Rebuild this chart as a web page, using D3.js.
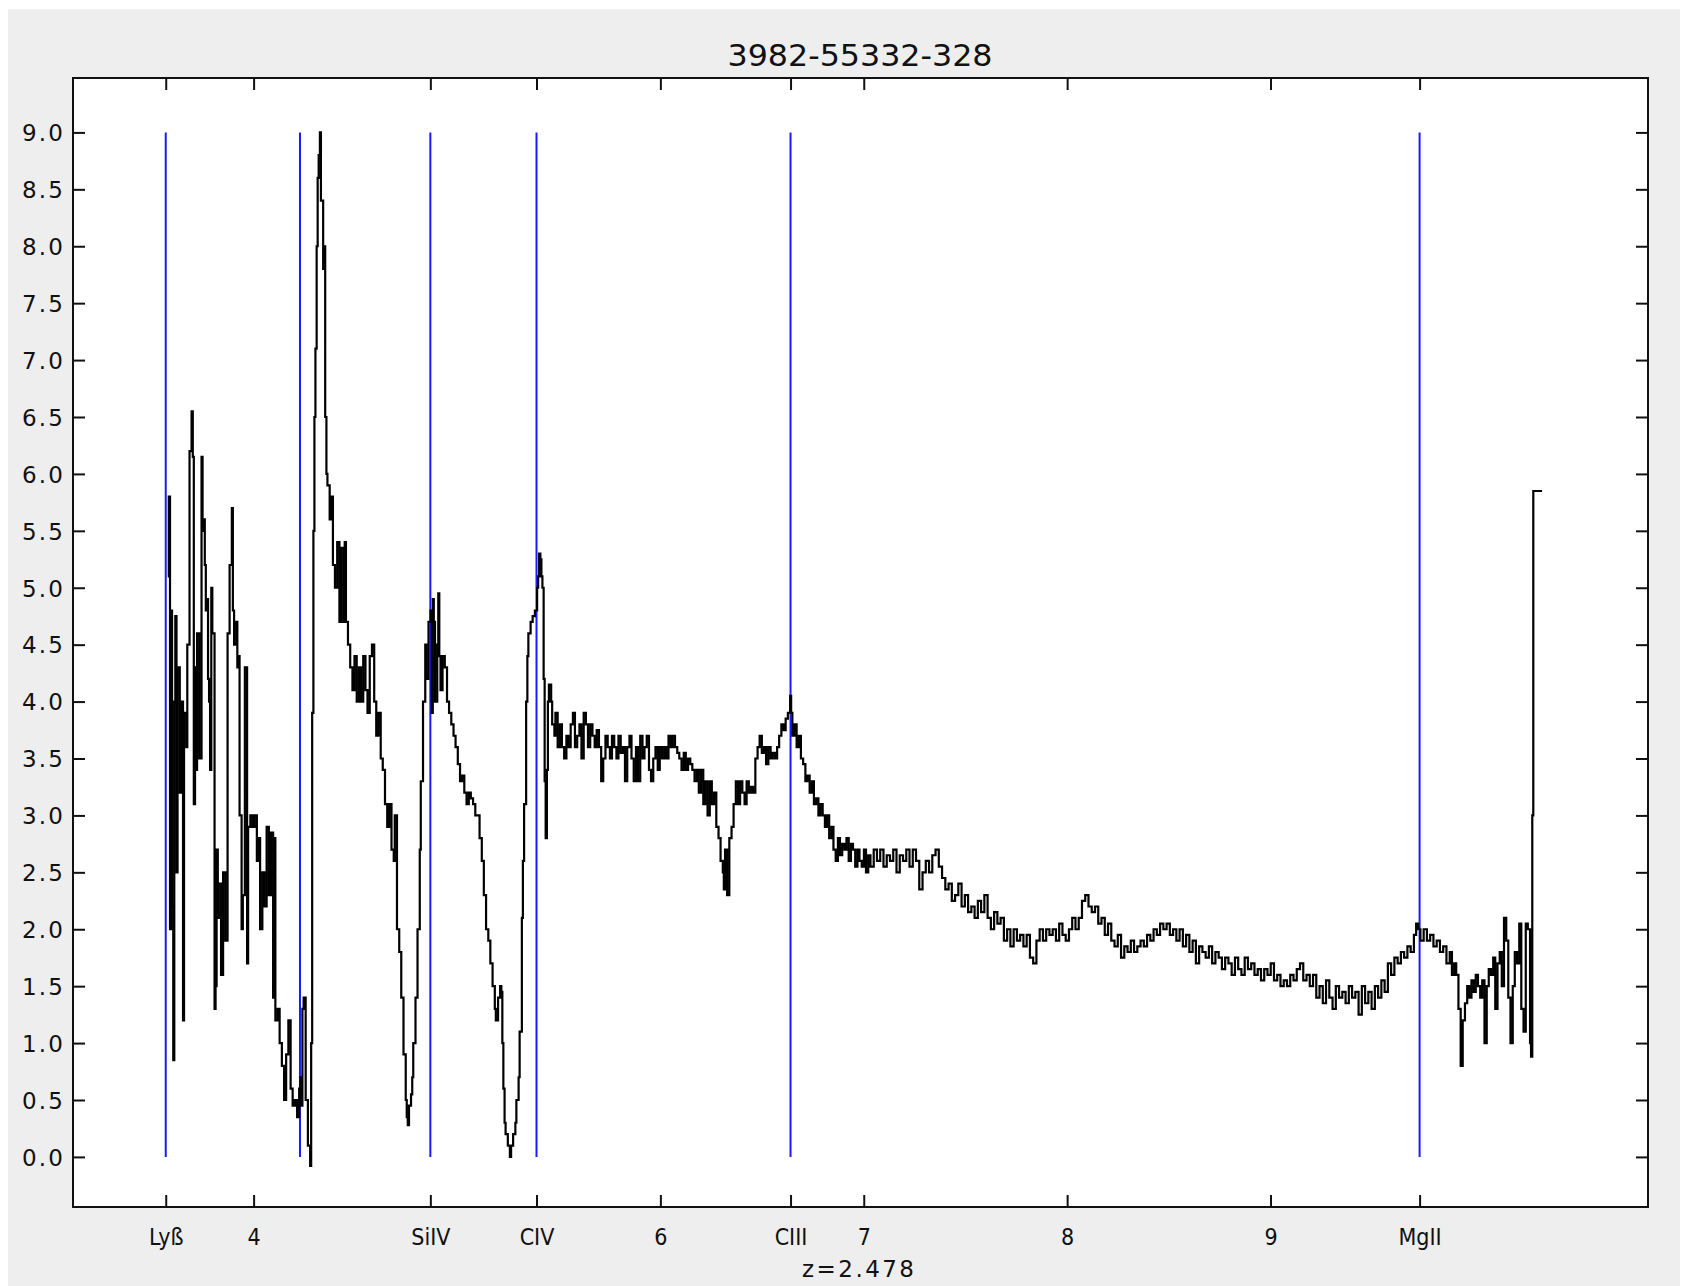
<!DOCTYPE html>
<html>
<head>
<meta charset="utf-8">
<script src="https://cdn.jsdelivr.net/npm/d3@7"></script>
<style>
  html, body { margin: 0; padding: 0; background: #ffffff; }
  svg { display: block; }
</style>
</head>
<body>
<svg id="chart" width="1707" height="1286"></svg>
<script>
// ---------------- DATA ----------------
const title = "3982-55332-328";
const redshiftLabel = "z=2.478";

// observed wavelength (Å)
const wavelength = [
3578,3583,3589,3594,3599,3605,3610,3615,3621,3626,3637,3647,3653,3658,3669,3674,3685,3695,3701,3706,
3712,3717,3722,3733,3744,3749,3754,3760,3765,3770,3776,3781,3786,3792,3797,3808,3813,3818,3824,3829,
3840,3850,3861,3872,3882,3893,3898,3904,3915,3920,3925,3931,3941,3947,3957,3968,3973,3984,3995,4005,
4016,4027,4032,4043,4053,4064,4075,4085,4096,4101,4107,4118,4128,4139,4150,4160,4171,4182,4192,4203,
4214,4224,4230,4235,4240,4246,4256,4267,4278,4283,4288,4294,4299,4304,4310,4315,4320,4326,4331,4342,
4347,4352,4358,4363,4374,4384,4390,4400,4411,4422,4432,4443,4448,4454,4464,4475,4486,4496,4507,4518,
4528,4539,4550,4560,4571,4582,4593,4603,4614,4625,4635,4646,4657,4667,4678,4689,4694,4705,4716,4726,
4737,4748,4753,4758,4764,4774,4780,4785,4796,4806,4817,4822,4833,4844,4849,4860,4870,4876,4881,4886,
4892,4903,4908,4913,4919,4929,4940,4951,4961,4972,4983,4993,5004,5015,5025,5036,5047,5058,5068,5079,
5090,5100,5111,5122,5132,5143,5154,5164,5175,5186,5191,5202,5212,5218,5223,5228,5234,5239,5250,5260,
5266,5276,5287,5292,5303,5308,5319,5324,5330,5340,5346,5351,5362,5372,5383,5394,5399,5404,5410,5415,
5420,5426,5431,5436,5442,5447,5452,5463,5468,5479,5484,5495,5506,5516,5527,5538,5548,5559,5570,5580,
5591,5602,5612,5623,5634,5644,5655,5666,5677,5687,5698,5709,5719,5730,5741,5752,5762,5773,5784,5794,
5805,5816,5826,5837,5848,5858,5869,5880,5890,5901,5912,5922,5933,5944,5954,5965,5976,5987,5997,6008,
6019,6029,6040,6051,6061,6072,6083,6093,6104,6115,6125,6136,6147,6157,6168,6179,6189,6200,6211,6221,
6232,6243,6253,6264,6275,6286,6296,6307,6312,6318,6328,6339,6350,6360,6371,6382,6392,6403,6414,6424,
6435,6446,6456,6467,6478,6488,6499,6510,6520,6531,6542,6552,6563,6574,6584,6595,6606,6616,6627,6638,
6643,6649,6659,6670,6681,6691,6702,6713,6723,6734,6745,6755,6766,6777,6787,6798,6809,6819,6830,6841,
6851,6862,6873,6883,6894,6905,6915,6926,6937,6947,6958,6969,6979,6990,7001,7011,7022,7033,7049,7065,
7081,7097,7113,7129,7145,7161,7177,7193,7209,7225,7241,7257,7273,7289,7305,7321,7337,7353,7369,7385,
7401,7417,7433,7449,7465,7481,7497,7513,7529,7545,7561,7577,7593,7609,7625,7641,7657,7673,7689,7705,
7721,7737,7753,7769,7785,7801,7817,7833,7849,7865,7881,7897,7913,7929,7945,7961,7977,7993,8009,8025,
8041,8057,8073,8089,8105,8121,8137,8153,8169,8185,8201,8217,8233,8249,8265,8281,8297,8313,8329,8345,
8361,8377,8393,8409,8425,8441,8457,8473,8489,8505,8521,8537,8553,8569,8585,8601,8617,8633,8649,8665,
8681,8697,8713,8729,8745,8761,8777,8793,8809,8825,8841,8857,8873,8889,8905,8921,8937,8953,8969,8985,
9001,9017,9033,9049,9065,9081,9097,9113,9129,9145,9161,9177,9193,9209,9225,9241,9257,9273,9289,9305,
9321,9337,9353,9369,9385,9401,9417,9433,9449,9465,9481,9497,9513,9529,9545,9561,9577,9593,9609,9625,
9641,9657,9673,9689,9705,9716,9726,9737,9753,9769,9785,9801,9817,9833,9849,9865,9881,9892,9903,9913,
9924,9935,9945,9956,9967,9977,9988,9999,10009,10020,10031,10041,10052,10063,10073,10084,10095,10105,10116,10127,
10137,10148,10159,10169,10180,10191,10201,10212,10223,10233,10244,10255,10265,10276,10281,10287,10292,10335
];

// flux
const flux = [
5.1,5.8,2.0,4.8,2.2,0.85,4.0,4.75,2.5,4.3,3.2,4.0,1.2,3.9,3.6,4.5,6.2,6.55,6.15,3.1,
4.3,3.4,4.6,3.5,6.15,5.5,5.6,5.2,4.8,4.9,4.2,4.0,3.4,5.0,4.6,1.3,1.5,2.7,2.1,2.4,
1.6,2.5,1.9,4.6,5.2,5.7,4.8,4.5,4.7,4.3,4.4,3.0,2.0,2.3,4.3,1.7,2.9,3.0,2.9,3.0,
2.6,2.8,2.0,2.5,2.2,2.9,2.3,2.85,1.4,2.8,1.2,1.3,1.0,0.8,0.5,0.9,1.2,0.6,0.45,0.5,
0.35,0.6,0.7,0.45,1.3,1.4,0.5,0.1,-0.08,1.0,3.9,5.5,6.5,7.1,8.0,8.6,8.8,9.0,8.4,7.8,
8.0,6.5,6.0,5.9,5.6,5.8,5.2,5.0,5.4,4.7,5.35,4.7,5.4,4.7,4.5,4.3,4.1,4.4,4.0,4.3,
4.0,4.4,4.1,3.9,4.4,4.5,4.0,3.7,3.9,3.5,3.4,3.1,2.9,3.1,2.7,2.6,3.0,2.0,1.8,1.4,
0.9,0.5,0.35,0.28,0.45,0.55,0.7,1.0,1.4,2.0,2.7,3.3,4.0,4.5,4.2,4.7,4.8,3.9,4.9,4.7,
4.0,4.5,4.95,4.4,4.1,4.4,4.3,4.0,3.9,3.8,3.7,3.6,3.45,3.3,3.35,3.2,3.1,3.2,3.15,3.1,
3.0,3.0,2.8,2.6,2.3,2.0,1.9,1.7,1.5,1.3,1.2,1.4,1.5,1.45,1.0,0.6,0.3,0.2,0.1,0.0,
0.1,0.2,0.3,0.5,0.7,1.1,2.1,2.6,3.1,4.0,4.4,4.6,4.7,4.75,4.8,5.0,5.1,5.3,5.25,5.1,
5.0,4.2,3.3,2.8,3.4,4.0,4.15,4.0,3.8,3.7,3.9,3.6,3.8,3.6,3.5,3.7,3.6,3.8,3.9,3.6,
3.7,3.8,3.5,3.9,3.8,3.6,3.8,3.7,3.6,3.75,3.6,3.3,3.5,3.7,3.6,3.5,3.7,3.6,3.5,3.7,
3.55,3.6,3.3,3.6,3.7,3.5,3.3,3.6,3.3,3.7,3.5,3.6,3.7,3.4,3.3,3.5,3.6,3.4,3.6,3.5,
3.6,3.5,3.7,3.6,3.7,3.6,3.55,3.5,3.4,3.55,3.4,3.5,3.45,3.4,3.3,3.4,3.2,3.4,3.1,3.3,
3.0,3.3,3.1,3.2,2.9,2.8,2.6,2.5,2.35,2.7,2.3,2.8,2.9,3.1,3.3,3.1,3.3,3.2,3.1,3.3,
3.2,3.25,3.2,3.5,3.6,3.7,3.55,3.6,3.45,3.6,3.5,3.55,3.5,3.6,3.7,3.8,3.75,3.85,3.9,4.05,
3.9,3.7,3.8,3.6,3.7,3.5,3.45,3.3,3.35,3.2,3.3,3.1,3.15,3.0,3.1,3.0,2.9,3.0,2.8,2.9,
2.7,2.6,2.8,2.65,2.75,2.7,2.8,2.6,2.75,2.7,2.55,2.7,2.6,2.55,2.7,2.5,2.65,2.55,2.7,2.6,
2.7,2.55,2.65,2.6,2.7,2.5,2.65,2.6,2.7,2.55,2.7,2.6,2.35,2.5,2.6,2.5,2.65,2.7,2.55,2.45,
2.35,2.4,2.25,2.3,2.4,2.2,2.3,2.15,2.2,2.1,2.25,2.15,2.3,2.1,2.0,2.15,2.05,2.1,1.9,2.0,
1.85,2.0,1.9,1.95,1.85,1.95,1.75,1.7,1.9,2.0,1.9,2.0,1.95,2.0,1.9,2.05,1.95,1.9,2.0,2.1,
2.0,2.1,2.25,2.3,2.2,2.15,2.2,2.05,2.1,1.95,2.05,1.9,1.85,1.95,1.75,1.85,1.8,1.9,1.8,1.85,
1.9,1.85,1.95,1.9,2.0,1.95,2.05,2.0,2.05,1.95,2.0,1.9,2.0,1.85,1.95,1.8,1.9,1.7,1.85,1.8,
1.75,1.85,1.7,1.8,1.75,1.65,1.75,1.7,1.6,1.75,1.65,1.6,1.75,1.65,1.7,1.6,1.65,1.55,1.65,1.6,
1.7,1.55,1.6,1.5,1.55,1.5,1.6,1.55,1.65,1.7,1.55,1.6,1.5,1.6,1.4,1.5,1.35,1.55,1.4,1.3,
1.5,1.4,1.45,1.35,1.5,1.4,1.45,1.25,1.5,1.35,1.45,1.3,1.5,1.4,1.55,1.45,1.7,1.6,1.75,1.7,
1.8,1.75,1.85,1.8,1.95,2.05,2.0,1.9,2.0,1.9,1.95,1.85,1.9,1.8,1.85,1.7,1.8,1.6,1.7,1.6,
1.3,0.8,1.2,1.35,1.5,1.4,1.55,1.45,1.6,1.5,1.4,1.55,1.0,1.5,1.65,1.6,1.75,1.3,1.7,1.8,
1.5,2.1,1.9,1.4,1.0,1.5,1.8,1.7,2.05,1.3,1.1,2.05,2.0,1.0,0.88,3.0,5.85,5.85
];

// emission-line markers (observed wavelength, Å)
const lineNames = ["Lyß", "Lyα", "SiIV", "CIV", "CIII", "MgII"];
const lineWaves = [3568, 4228, 4869, 5391, 6640, 9733];
const lineLabelled = [true, false, true, true, true, true];

// numeric wavelength ticks (Å) and their labels
const numTickWaves = [4000, 6000, 7000, 8000, 9000];
const numTickLabels = ["4", "6", "7", "8", "9"];

// flux ticks
const yTicks = [0,0.5,1,1.5,2,2.5,3,3.5,4,4.5,5,5.5,6,6.5,7,7.5,8,8.5,9];

// axis ranges
const xDomain = [3112, 10856];
const yDomain = [-0.44, 9.478];

// ---------------- CHART ----------------
const svg = d3.select("#chart");
const W = 1707, H = 1286;
const plot = { left: 73, right: 1648, top: 78, bottom: 1207 };

svg.append("rect").attr("x", 0).attr("y", 0).attr("width", W).attr("height", H).attr("fill", "#ffffff");
svg.append("rect").attr("x", 8).attr("y", 9).attr("width", 1672).attr("height", H - 9).attr("fill", "#eeeeee");
svg.append("rect")
  .attr("x", plot.left).attr("y", plot.top)
  .attr("width", plot.right - plot.left).attr("height", plot.bottom - plot.top)
  .attr("fill", "#ffffff");

const x = d3.scaleLinear().domain(xDomain).range([plot.left, plot.right]);
const y = d3.scaleLinear().domain(yDomain).range([plot.bottom, plot.top]);

// x tick set: line markers with labels + numeric
const xTicks = [];
lineNames.forEach((n, i) => { if (lineLabelled[i]) xTicks.push({ v: lineWaves[i], t: n }); });
numTickWaves.forEach((v, i) => xTicks.push({ v: v, t: numTickLabels[i] }));
xTicks.sort((a, b) => a.v - b.v);
const xTickVals = xTicks.map(d => d.v);
const xLabelOf = new Map(xTicks.map(d => [d.v, d.t]));

const fontAxis = "'DejaVu Sans', sans-serif";
const fontCond = "'DejaVu Sans Condensed', 'DejaVu Sans', sans-serif";

// blue emission lines
svg.append("g").selectAll("line").data(lineWaves).join("line")
  .attr("x1", d => x(d)).attr("x2", d => x(d))
  .attr("y1", y(0)).attr("y2", y(9))
  .attr("stroke", "#1a1aff").attr("stroke-width", 2);

// spectrum
const pts = wavelength.map((w, i) => [w, flux[i]]);
svg.append("clipPath").attr("id", "clip").append("rect")
  .attr("x", plot.left).attr("y", plot.top)
  .attr("width", plot.right - plot.left).attr("height", plot.bottom - plot.top);
svg.append("path")
  .datum(pts)
  .attr("clip-path", "url(#clip)")
  .attr("fill", "none")
  .attr("stroke", "#000000")
  .attr("stroke-width", 2.2)
  .attr("d", d3.line().x(d => x(d[0])).y(d => y(d[1])).curve(d3.curveStepAfter));

// axes
const TICK = 12;
const gBottom = svg.append("g").attr("transform", `translate(0,${plot.bottom})`)
  .call(d3.axisBottom(x).tickValues(xTickVals).tickFormat(v => xLabelOf.get(v))
    .tickSizeInner(-TICK).tickSizeOuter(0).tickPadding(22));
const gTop = svg.append("g").attr("transform", `translate(0,${plot.top})`)
  .call(d3.axisTop(x).tickValues(xTickVals).tickFormat("").tickSizeInner(-TICK).tickSizeOuter(0));
const gLeft = svg.append("g").attr("transform", `translate(${plot.left},0)`)
  .call(d3.axisLeft(y).tickValues(yTicks).tickFormat(d3.format(".1f"))
    .tickSizeInner(-TICK).tickSizeOuter(0).tickPadding(10));
const gRight = svg.append("g").attr("transform", `translate(${plot.right},0)`)
  .call(d3.axisRight(y).tickValues(yTicks).tickFormat("").tickSizeInner(-TICK).tickSizeOuter(0));

[gBottom, gTop, gLeft, gRight].forEach(g => {
  g.select(".domain").remove();
  g.selectAll(".tick line").attr("stroke", "#111").attr("stroke-width", 2);
});

gLeft.selectAll(".tick text")
  .attr("font-family", fontAxis).attr("font-size", 23).attr("fill", "#111")
  .attr("dy", "0.36em")
  .attr("textLength", 41).attr("lengthAdjust", "spacing");

gBottom.selectAll(".tick text")
  .attr("font-family", fontCond).attr("font-stretch", "condensed")
  .attr("font-size", 23).attr("fill", "#111").attr("dy", "0.71em");

// plot frame
svg.append("rect")
  .attr("x", plot.left).attr("y", plot.top)
  .attr("width", plot.right - plot.left).attr("height", plot.bottom - plot.top)
  .attr("fill", "none").attr("stroke", "#111").attr("stroke-width", 2);

// title
svg.append("text")
  .attr("x", 860).attr("y", 66)
  .attr("text-anchor", "middle")
  .attr("font-family", fontCond).attr("font-stretch", "condensed")
  .attr("font-size", 31).attr("fill", "#111")
  .attr("textLength", 265).attr("lengthAdjust", "spacingAndGlyphs")
  .text(title);

// redshift label
svg.append("text")
  .attr("x", 858).attr("y", 1277)
  .attr("text-anchor", "middle")
  .attr("font-family", fontAxis).attr("font-size", 23).attr("fill", "#111")
  .attr("textLength", 112).attr("lengthAdjust", "spacing")
  .text(redshiftLabel);
</script>
</body>
</html>
